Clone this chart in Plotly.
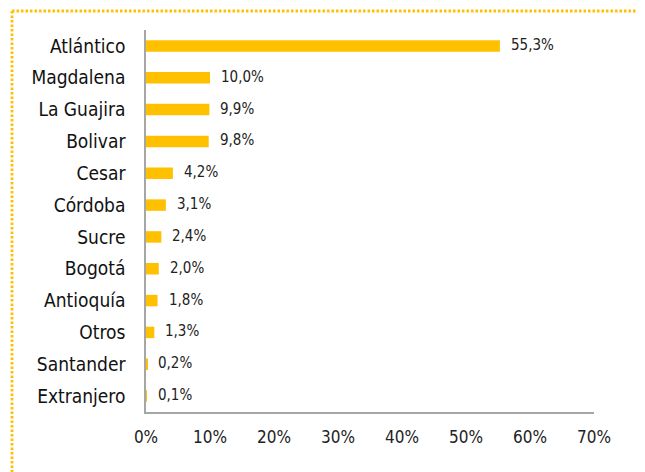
import plotly.graph_objects as go

categories = ["Atlántico", "Magdalena", "La Guajira", "Bolivar", "Cesar", "Córdoba",
              "Sucre", "Bogotá", "Antioquía", "Otros", "Santander", "Extranjero"]
values = [55.3, 10.0, 9.9, 9.8, 4.2, 3.1, 2.4, 2.0, 1.8, 1.3, 0.2, 0.1]
value_labels = ["55,3%", "10,0%", "9,9%", "9,8%", "4,2%", "3,1%", "2,4%", "2,0%",
                "1,8%", "1,3%", "0,2%", "0,1%"]
tick_vals = [0, 10, 20, 30, 40, 50, 60, 70]
tick_text = ["0%", "10%", "20%", "30%", "40%", "50%", "60%", "70%"]

FONT = "DejaVu Sans Condensed, Liberation Sans Narrow, sans-serif"
GOLD = "#FFC000"

# page body has an 8px margin; work in figure coordinates (screen - 8)
OFF = 8
W, H = 645 - OFF, 472 - OFF
ML, MT = 146 - OFF, 30 - OFF
PR, PB = 594 - OFF, 412 - OFF
MR, MB = W - PR, H - PB
PW, PH = W - ML - MR, H - MT - MB

fig = go.Figure(go.Bar(
    x=values, y=categories, orientation="h",
    marker=dict(color=GOLD, line=dict(width=0)),
    width=0.36, hoverinfo="skip",
))

annotations = [
    dict(x=v, y=c, xref="x", yref="y", text=t, showarrow=False,
         xanchor="left", yanchor="middle", xshift=9, yshift=1,
         font=dict(family=FONT, size=15, color="#222222"))
    for v, c, t in zip(values, categories, value_labels)
]

def px_x(p):
    return (p - OFF - ML) / PW

def px_y(p):
    return 1 - (p - OFF - MT) / PH

fig.update_layout(
    width=W, height=H,
    margin=dict(l=ML, r=MR, t=MT, b=MB, autoexpand=False),
    paper_bgcolor="white", plot_bgcolor="white",
    showlegend=False,
    font=dict(family=FONT, color="#222222"),
    annotations=annotations,
    xaxis=dict(range=[0, 70], tickvals=tick_vals, ticktext=tick_text,
               showgrid=False, zeroline=False, showline=True, linecolor="#A6A6A6",
               linewidth=1.5, ticks="", ticklabelstandoff=9,
               tickfont=dict(family=FONT, size=17, color="#222222")),
    yaxis=dict(autorange="reversed", showgrid=False, zeroline=False, showline=True,
               linecolor="#A6A6A6", linewidth=1.5, ticks="", ticklabelstandoff=15,
               tickfont=dict(family=FONT, size=19, color="#111111")),
    shapes=[
        dict(type="line", xref="paper", yref="paper",
             x0=px_x(12), x1=px_x(645), y0=px_y(11), y1=px_y(11),
             line=dict(color=GOLD, width=2.8, dash="2.5px,2px")),
        dict(type="line", xref="paper", yref="paper",
             x0=px_x(12), x1=px_x(12), y0=px_y(11), y1=px_y(472),
             line=dict(color=GOLD, width=2.8, dash="2.5px,2px")),
    ],
)

fig.write_html("out.html")
